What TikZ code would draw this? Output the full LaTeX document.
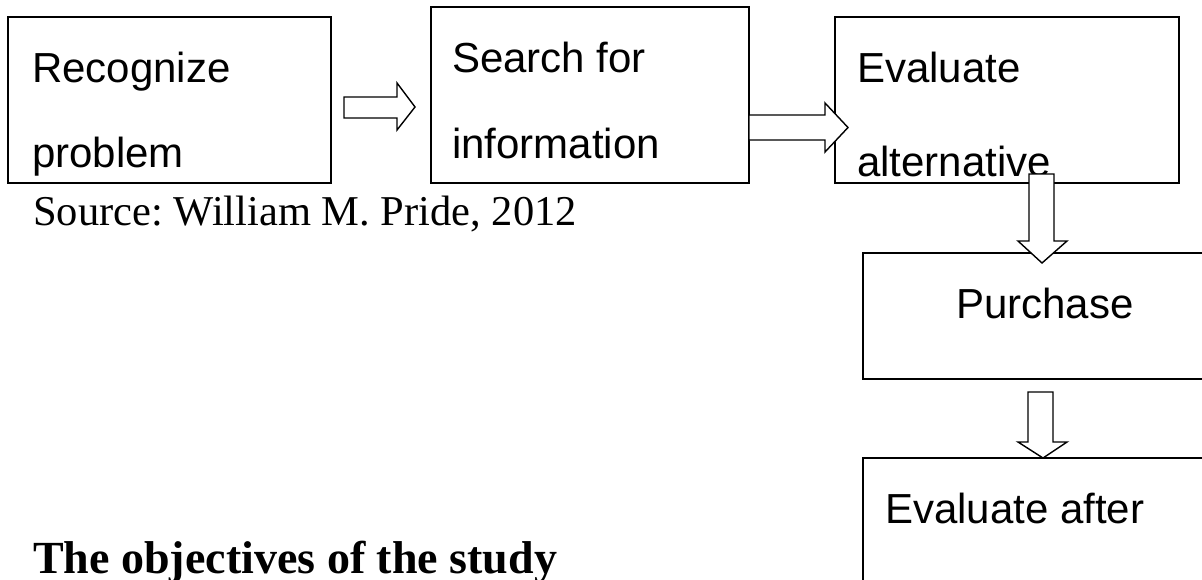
\documentclass[tikz,border=0pt]{standalone}
\usepackage{fontspec}
\setmainfont{Liberation Serif}
\newfontfamily\arialf{Liberation Sans}
\frenchspacing
\begin{document}
\begin{tikzpicture}[x=1pt,y=-1pt,
  boxst/.style={draw=black,line width=1.6pt,fill=none},
  lbl/.style={anchor=base west,inner sep=0pt,font=\arialf\fontsize{42}{50}\selectfont},
  blockarrow/.style={draw=black,line width=1.4pt,fill=white,line join=miter}]
\useasboundingbox (0,0) rectangle (1202,579);
\clip (0,0) rectangle (1202,579);
% boxes
\draw[boxst] (8,17) rectangle (331,183);
\draw[boxst] (431,7) rectangle (749,183);
\draw[boxst] (835,17) rectangle (1179,183);
\draw[boxst] (863,253) rectangle (1230,379);
\draw[boxst] (863,458) rectangle (1230,640);
% texts
\node[lbl] (t1a) at (32,82) {Recognize};
\node[lbl] (t1b) at (32,167) {problem};
\node[lbl] (t2a) at (452,72) {Search for};
\node[lbl] (t2b) at (452,158) {information};
\node[lbl] (t3a) at (857,82) {Evaluate};
\node[lbl] (t3b) at (857,176) {alternative};
\node[lbl] (t4) at (956,318) {Purchase};
\node[lbl] (t5) at (885,523) {Evaluate after};
\node[anchor=base west,inner sep=0pt,font=\fontsize{42.5}{50}\selectfont] (src) at (33,225) {Source: William M. Pride, 2012};
\node[anchor=base west,inner sep=0pt,font=\bfseries\fontsize{46}{55}\selectfont] (ttl) at (33,573) {The objectives of the study};
% block arrows
\draw[blockarrow] (344,97) -- (397,97) -- (397,83) -- (415,107) -- (397,130) -- (397,118) -- (344,118) -- cycle;
\draw[blockarrow] (749,115) -- (825,115) -- (825,103) -- (848,127.5) -- (825,152) -- (825,140) -- (749,140) -- cycle;
\draw[blockarrow] (1029,174) -- (1054,174) -- (1054,241) -- (1067,241) -- (1042,263) -- (1018,241) -- (1029,241) -- cycle;
\draw[blockarrow] (1028,392) -- (1053,392) -- (1053,442) -- (1067,442) -- (1043,458) -- (1018,442) -- (1028,442) -- cycle;
\end{tikzpicture}
\end{document}
